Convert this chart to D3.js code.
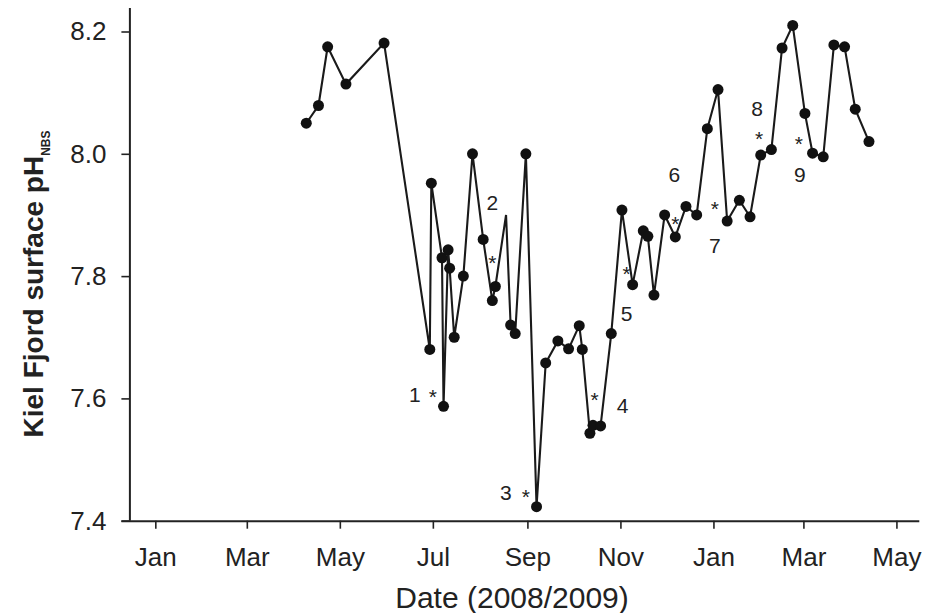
<!DOCTYPE html>
<html>
<head>
<meta charset="utf-8">
<script src="https://cdn.jsdelivr.net/npm/d3@7/dist/d3.min.js"></script>
<style>
  html, body { margin: 0; padding: 0; background: #fff; }
  svg { display: block; }
  text { font-family: "Liberation Sans", Arial, sans-serif; fill: #222; }
</style>
</head>
<body>
<svg id="chart" width="934" height="613"></svg>
<script>
// Kiel Fjord surface pH (NBS scale), sampling dates 2008/2009
const sampleDates = [
  "2008-04-09","2008-04-17","2008-04-23","2008-05-05","2008-05-30",
  "2008-06-29","2008-06-30","2008-07-07","2008-07-08","2008-07-11",
  "2008-07-12","2008-07-15","2008-07-21","2008-07-27","2008-08-03",
  "2008-08-09","2008-08-11","2008-08-18","2008-08-21","2008-08-24",
  "2008-08-31","2008-09-07","2008-09-13","2008-09-21","2008-09-28",
  "2008-10-05","2008-10-07","2008-10-12","2008-10-14","2008-10-19",
  "2008-10-26","2008-11-02","2008-11-09","2008-11-16","2008-11-19",
  "2008-11-23","2008-11-30","2008-12-07","2008-12-14","2008-12-21",
  "2008-12-28","2009-01-04","2009-01-10","2009-01-18","2009-01-25",
  "2009-02-01","2009-02-08","2009-02-15","2009-02-22","2009-03-02",
  "2009-03-07","2009-03-14","2009-03-21","2009-03-28","2009-04-04",
  "2009-04-13"
];
const phValues = [
  8.050, 8.079, 8.175, 8.114, 8.181,
  7.680, 7.952, 7.830, 7.587, 7.843,
  7.813, 7.700, 7.800, 8.000, 7.860,
  7.760, 7.783, 7.900, 7.720, 7.706,
  8.000, 7.423, 7.658, 7.694, 7.681,
  7.719, 7.680, 7.543, 7.556, 7.555,
  7.706, 7.908, 7.786, 7.874, 7.865,
  7.769, 7.900, 7.864, 7.914, 7.900,
  8.041, 8.105, 7.890, 7.924, 7.897,
  7.998, 8.007, 8.173, 8.210, 8.066,
  8.001, 7.995, 8.178, 8.175, 8.073,
  8.020
];
// samples drawn as a line vertex only (no dot)
const unmarkedDates = ["2008-08-18"];

// numbered events, anchored at their asterisk
const eventLabels = ["1","2","3","4","5","6","7","8","9"];
const eventDates  = ["2008-07-01","2008-08-09","2008-08-31","2008-10-15","2008-11-05",
                     "2008-12-07","2009-01-02","2009-01-31","2009-02-26"];
const eventValues = [7.606, 7.825, 7.442, 7.600, 7.807, 7.889, 7.913, 8.027, 8.020];

const xTickDates = ["2008-01-01","2008-03-01","2008-05-01","2008-07-01","2008-09-01",
                    "2008-11-01","2009-01-01","2009-03-01","2009-05-01"];
const yTickValues = [7.4, 7.6, 7.8, 8.0, 8.2];

const parse = d3.utcParse("%Y-%m-%d");
const points = sampleDates.map((d, i) => ({ date: parse(d), ph: phValues[i], marked: !unmarkedDates.includes(d) }));

const svg = d3.select("#chart");

const x = d3.scaleUtc()
  .domain([parse("2007-12-15"), parse("2009-05-16")])
  .range([129.4, 919.3]);
const y = d3.scaleLinear()
  .domain([7.4, 8.2])
  .range([520.7, 31.5]);
const yTop = 8;

// axes
const xAxis = d3.axisBottom(x)
  .tickValues(xTickDates.map(parse))
  .tickFormat(d3.utcFormat("%b"))
  .tickSize(8).tickSizeOuter(0).tickPadding(19);
const gx = svg.append("g").attr("transform", `translate(0,${y(7.4)})`).call(xAxis);
gx.select(".domain").attr("d", `M${x.range()[0] - 8},0.5H${x.range()[1]}`);

const yAxis = d3.axisLeft(y)
  .tickValues(yTickValues)
  .tickFormat(d3.format(".1f"))
  .tickSize(8).tickSizeOuter(0).tickPadding(15);
const gy = svg.append("g").attr("transform", `translate(${x.range()[0]},0)`).call(yAxis);
gy.select(".domain").attr("d", `M0.5,${yTop}V${y(7.4)}`);

[gx, gy].forEach(g => {
  g.select(".domain").attr("stroke", "#222").attr("stroke-width", 2);
  g.selectAll(".tick line").attr("stroke", "#222").attr("stroke-width", 1.6);
  g.selectAll(".tick text").attr("font-size", 26).attr("fill", "#333")
    .style("font-family", '"Liberation Sans", Arial, sans-serif');
});

// axis titles
svg.append("text")
  .attr("x", 512).attr("y", 608)
  .attr("text-anchor", "middle")
  .attr("font-size", 30)
  .attr("fill", "#333")
  .text("Date (2008/2009)");

const yTitle = svg.append("text")
  .attr("transform", "translate(43,284) rotate(-90)")
  .attr("text-anchor", "middle")
  .attr("font-size", 28)
  .attr("font-weight", "bold")
  .attr("fill", "#333");
yTitle.append("tspan").text("Kiel Fjord surface pH");
yTitle.append("tspan").attr("font-size", 12).attr("dy", 7).text("NBS");

// series line and dots
const line = d3.line().x(d => x(d.date)).y(d => y(d.ph));
svg.append("path")
  .datum(points)
  .attr("d", line)
  .attr("fill", "none")
  .attr("stroke", "#1a1a1a")
  .attr("stroke-width", 2.1)
  .attr("stroke-linejoin", "miter");

svg.append("g")
  .selectAll("circle")
  .data(points.filter(p => p.marked))
  .join("circle")
  .attr("cx", d => x(d.date))
  .attr("cy", d => y(d.ph))
  .attr("r", 5.5)
  .attr("fill", "#111");

// event markers: asterisk plus number
const labelOffsets = [[-18, 0], [0, -58], [-20, -2], [28, 8], [0, 42], [-1, -47], [0, 39], [-2, -28], [1, 33]];
const events = eventLabels.map((l, i) => ({ label: l, date: parse(eventDates[i]), ph: eventValues[i], off: labelOffsets[i] }));
const ev = svg.append("g");
ev.selectAll("text.star")
  .data(events)
  .join("text")
  .attr("class", "star")
  .attr("x", d => x(d.date))
  .attr("y", d => y(d.ph) + 9)
  .attr("text-anchor", "middle")
  .attr("font-size", 21)
  .attr("fill", "#888")
  .text("*");
ev.selectAll("text.num")
  .data(events)
  .join("text")
  .attr("class", "num")
  .attr("x", d => x(d.date) + d.off[0])
  .attr("y", d => y(d.ph) + d.off[1] + 7)
  .attr("text-anchor", "middle")
  .attr("font-size", 21)
  .attr("fill", "#444")
  .text(d => d.label);
</script>
</body>
</html>
